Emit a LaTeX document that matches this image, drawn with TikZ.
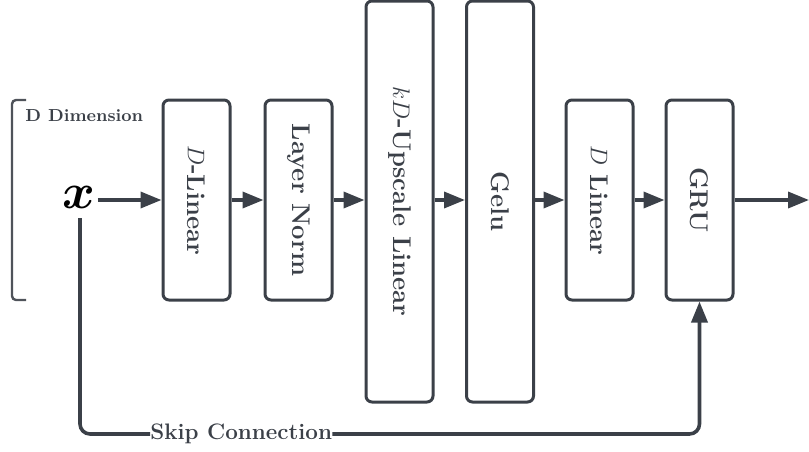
\documentclass[tikz,border=0pt]{standalone}
\usepackage{amsmath}
\usepackage{bm}
\usetikzlibrary{arrows.meta}

\definecolor{ink}{HTML}{3B4048}

\tikzset{
  block/.style={draw=ink, line width=1.5pt, rounded corners=3pt, fill=white,
    minimum width=33.5pt, minimum height=100pt, inner sep=0pt,
    font=\fontsize{12.8}{15}\selectfont\bfseries, text=ink},
  tallblock/.style={block, minimum height=200.5pt},
  flow/.style={draw=ink, line width=1.8pt, -{Triangle[length=10.5pt,width=8pt]}},
}

\begin{document}
\begin{tikzpicture}[x=0.5pt,y=-0.5pt]
\useasboundingbox (0,0) rectangle (809,451);

% bracket
\draw[ink!90, line width=1.2pt, rounded corners=2pt] (26,100) -- (12,100) -- (12,300) -- (26,300);
\node[anchor=west, text=ink, font=\fontsize{8.7}{10}\selectfont\bfseries, inner sep=0pt] (dim) at (25,116) {D Dimension};

% input
\node[inner sep=0pt, font=\fontsize{28}{28}\selectfont] (x) at (79,197) {$\bm{x}$};

% blocks
\node[block] (lin1) at (196.5,200) {\rotatebox{-90}{$D$-Linear}};
\node[block] (norm) at (298.5,200) {\rotatebox{-90}{Layer Norm}};
\node[tallblock] (up) at (399.5,201.5) {\rotatebox{-90}{$kD$-Upscale Linear}};
\node[tallblock] (gelu) at (500,201.5) {\rotatebox{-90}{Gelu}};
\node[block] (lin2) at (599.5,200) {\rotatebox{-90}{$D$ Linear}};
\node[block] (gru) at (699.5,200) {\rotatebox{-90}{GRU}};
\coordinate (out) at (809,200);

% arrows
\draw[flow] (x.east) ++(2,3) -- (lin1.west |- 0,200);
\draw[flow] (lin1.east |- 0,200) -- (norm.west |- 0,200);
\draw[flow] (norm.east |- 0,200) -- (up.west |- 0,200);
\draw[flow] (up.east |- 0,200) -- (gelu.west |- 0,200);
\draw[flow] (gelu.east |- 0,200) -- (lin2.west |- 0,200);
\draw[flow] (lin2.east |- 0,200) -- (gru.west |- 0,200);
\draw[flow] (gru.east |- 0,200) -- (out);

% skip
\node[anchor=west, inner sep=0pt, text=ink, font=\fontsize{11.2}{13}\selectfont\bfseries] (skip) at (150,434) {Skip Connection};
\draw[draw=ink, line width=1.8pt, rounded corners=5pt] (80,218) |- (skip.west);
\draw[flow, rounded corners=5pt] (skip.east) -| (gru.south);

\end{tikzpicture}
\end{document}
